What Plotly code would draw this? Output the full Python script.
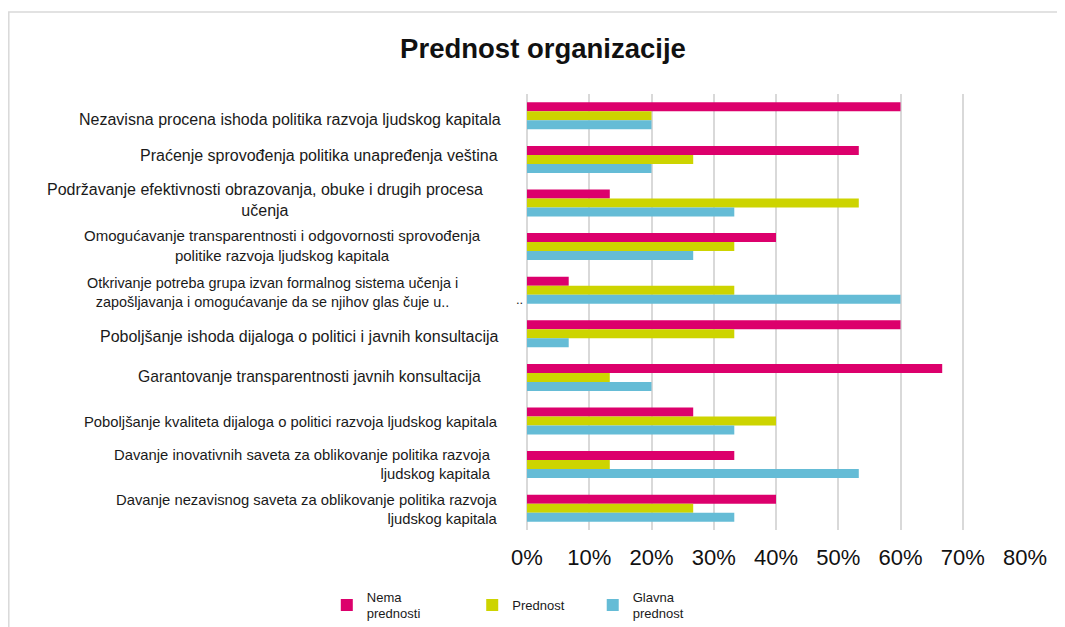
import plotly.graph_objects as go

title = "Prednost organizacije"
categories = [
    "Nezavisna procena ishoda politika razvoja ljudskog kapitala",
    "Praćenje sprovođenja politika unapređenja veština",
    "Podržavanje efektivnosti obrazovanja, obuke i drugih procesa<br>učenja",
    "Omogućavanje transparentnosti i odgovornosti sprovođenja<br>politike razvoja ljudskog kapitala",
    "Otkrivanje potreba grupa izvan formalnog sistema učenja i<br>zapošljavanja i omogućavanje da se njihov glas čuje u..",
    "Poboljšanje ishoda dijaloga o politici i javnih konsultacija",
    "Garantovanje transparentnosti javnih konsultacija",
    "Poboljšanje kvaliteta dijaloga o politici razvoja ljudskog kapitala",
    "Davanje inovativnih saveta za oblikovanje politika razvoja<br>ljudskog kapitala",
    "Davanje nezavisnog saveta za oblikovanje politika razvoja<br>ljudskog kapitala",
]
series_names = ["Nema<br>prednosti", "Prednost", "Glavna<br>prednost"]
nema_prednosti = [0.600, 0.533, 0.133, 0.400, 0.067, 0.600, 0.667, 0.267, 0.333, 0.400]
prednost = [0.200, 0.267, 0.533, 0.333, 0.333, 0.333, 0.133, 0.400, 0.133, 0.267]
glavna_prednost = [0.200, 0.200, 0.333, 0.267, 0.600, 0.067, 0.200, 0.333, 0.533, 0.333]
x_ticks = [0, 0.1, 0.2, 0.3, 0.4, 0.5, 0.6, 0.7, 0.8]
x_tick_labels = ["0%", "10%", "20%", "30%", "40%", "50%", "60%", "70%", "80%"]

# styling
colors = ["#DC006C", "#CDD400", "#65BCD6"]
label_align = ["right", "right", "center", "center", "center", "right", "right", "right", "right", "right"]
label_size = [16, 16, 16, 15, 14.4, 16, 15.7, 14.8, 14.8, 14.8]
label_xshift = [-24, -27, -42, -44, -67, -26, -44, -27, -34, -27]
label_yshift = [-4, 4, 3, 1, -2, -3, 1, -1, 0, -1]
legend_ids = ["legend", "legend2", "legend3"]
legend_x = [-0.402, -0.110, 0.132]
FONT = "Liberation Sans, Arial, sans-serif"

W, H = 1057, 619
L, R, T, B = 519, 40, 86, 97
PW, PH = W - L - R, H - T - B

fig = go.Figure()
for name, vals, col, lg in zip(series_names, [nema_prednosti, prednost, glavna_prednost], colors, legend_ids):
    fig.add_trace(go.Bar(
        y=list(range(len(categories))), x=vals, name=name, orientation="h",
        marker=dict(color=col, line=dict(width=0)), legend=lg,
    ))

annotations = []
for i, (cat, al, fs, xs, ys) in enumerate(zip(categories, label_align, label_size, label_xshift, label_yshift)):
    annotations.append(dict(
        x=0, xref="paper", y=i, yref="y", text=cat, showarrow=False,
        xanchor="right", yanchor="middle", align=al, xshift=xs, yshift=ys,
        font=dict(family=FONT, size=fs, color="#1A1A1A"),
    ))
# stray ellipsis next to the truncated label
annotations.append(dict(x=0, xref="paper", y=4, yref="y", text="..", showarrow=False,
                        xanchor="right", yanchor="middle", xshift=-2, yshift=-9,
                        font=dict(family=FONT, size=13, color="#1A1A1A")))

legend_style = dict(orientation="h", xanchor="left", y=-0.172, yanchor="middle",
                    font=dict(family=FONT, size=13, color="#1A1A1A"),
                    bgcolor="rgba(0,0,0,0)", borderwidth=0)

fig.update_layout(
    width=W, height=H,
    margin=dict(l=L, r=R, t=T, b=B, autoexpand=False),
    paper_bgcolor="white", plot_bgcolor="white",
    barmode="group", bargap=0.38, bargroupgap=0,
    title=dict(text="<b>" + title + "</b>", x=535 / W, xanchor="center",
               y=1 - 40 / H, yanchor="middle",
               font=dict(family=FONT, size=27.5, color="#111111")),
    font=dict(family=FONT, color="#1A1A1A"),
    xaxis=dict(range=[0, 0.8], tickvals=x_ticks, ticktext=x_tick_labels,
               showgrid=True, gridcolor="#D9D9D9", gridwidth=2,
               zeroline=True, zerolinecolor="#D9D9D9", zerolinewidth=2,
               showline=False, ticks="", ticklabelstandoff=12,
               tickfont=dict(family=FONT, size=22, color="#111111")),
    yaxis=dict(showticklabels=False, showgrid=False,
               zeroline=False, showline=False, ticks="",
               range=[len(categories) - 0.5, -0.5]),
    legend=dict(x=legend_x[0], **legend_style),
    legend2=dict(x=legend_x[1], **legend_style),
    legend3=dict(x=legend_x[2], **legend_style),
    showlegend=True,
    annotations=annotations,
    shapes=[dict(type="rect", xref="paper", yref="paper",
                 x0=(0.8 - L) / PW, x1=(W + 20 - L) / PW,
                 y0=(PH + T - H - 20) / PH, y1=(PH + T - 4) / PH,
                 line=dict(color="#D9D9D9", width=1.5), fillcolor="rgba(0,0,0,0)",
                 layer="below")],
)

fig.write_html("out.html")
